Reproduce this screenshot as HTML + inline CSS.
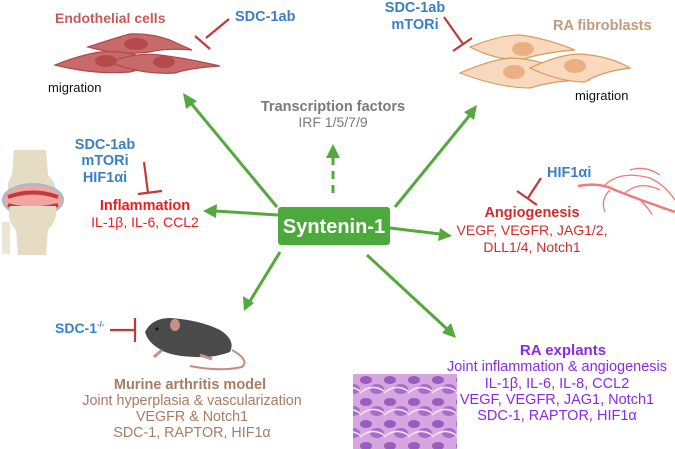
<!DOCTYPE html>
<html><head><meta charset="utf-8"><style>
html,body{margin:0;padding:0;background:#fff;}
svg{display:block;}
text{font-family:"Liberation Sans",sans-serif;}
</style></head><body>
<svg width="675" height="449" viewBox="0 0 675 449" xmlns="http://www.w3.org/2000/svg">
<defs>
<pattern id="hist" width="24" height="22" patternUnits="userSpaceOnUse">
<rect width="24" height="22" fill="#d6a6e0"/>
<ellipse cx="6" cy="6" rx="6" ry="4" fill="#9a5cc0"/><ellipse cx="17" cy="15" rx="7" ry="5" fill="#a86ccc"/>
<path d="M0,19 Q12,9 24,17" stroke="#f6e6f8" stroke-width="1.5" fill="none"/>
</pattern>
</defs>

<!-- Arrows -->
<g stroke="#55a83c" stroke-width="3" fill="none">
<line x1="277" y1="207" x2="190" y2="102"/>
<line x1="395" y1="207" x2="470" y2="115"/>
<line x1="333" y1="193" x2="333" y2="158" stroke-dasharray="8,6"/>
<line x1="278" y1="215" x2="215" y2="211"/>
<line x1="390" y1="228" x2="440" y2="234"/>
<line x1="280" y1="252" x2="250" y2="301"/>
<line x1="367" y1="255" x2="447" y2="329"/>
</g>
<g fill="#55a83c">
<polygon points="183,93 197,101 186,109"/>
<polygon points="477,105 474,120 464,112"/>
<polygon points="333,144 340,158 326,158"/>
<polygon points="203,211 217,204 216,218"/>
<polygon points="452,236 438,241 440,228"/>
<polygon points="244,311 243,296 254,303"/>
<polygon points="456,338 442,333 451,323"/>
</g>

<!-- Syntenin box -->
<rect x="278" y="207" width="112" height="38" rx="3" fill="#4caa3c"/>
<text x="334" y="233" text-anchor="middle" font-size="20" font-weight="bold" fill="#fff">Syntenin-1</text>

<!-- Endothelial cells -->
<text x="55" y="23" font-size="14" font-weight="bold" fill="#c95a5a">Endothelial cells</text>
<text x="235" y="21" font-size="14.5" font-weight="bold" fill="#3a80c6">SDC-1ab</text>
<g stroke="#c0393b" stroke-width="2.2"><line x1="229" y1="19" x2="206" y2="38"/><line x1="195" y1="36" x2="210" y2="49"/></g>
<g stroke="#b04848" stroke-width="1.2" fill="#c86a6a">
<path d="M88,47 Q115,38 130,34 Q150,33 170,40 L192,50 Q165,48 150,52 Q120,56 88,47z"/>
<path d="M55,65 Q80,55 100,52 Q125,50 145,58 L170,66 Q150,66 130,72 Q95,75 55,65z"/>
<path d="M110,62 Q135,52 160,55 Q185,58 220,66 Q190,68 175,73 Q140,75 110,62z"/>
</g>
<g fill="#b54a4a"><ellipse cx="136" cy="44" rx="12" ry="6"/><ellipse cx="106" cy="61" rx="11" ry="6"/><ellipse cx="164" cy="62" rx="11" ry="6"/></g>
<text x="48" y="92" font-size="13" fill="#111">migration</text>

<!-- Transcription -->
<text x="333" y="111" text-anchor="middle" font-size="14.5" font-weight="bold" fill="#7a7a7a">Transcription factors</text>
<text x="333" y="127" text-anchor="middle" font-size="14" fill="#7a7a7a">IRF 1/5/7/9</text>

<!-- RA fibroblasts -->
<text x="415" y="12" text-anchor="middle" font-size="14.5" font-weight="bold" fill="#3a80c6">SDC-1ab</text>
<text x="415" y="29" text-anchor="middle" font-size="14.5" font-weight="bold" fill="#3a80c6">mTORi</text>
<g stroke="#c0393b" stroke-width="2.2"><line x1="444" y1="17" x2="463" y2="44"/><line x1="453" y1="51" x2="472" y2="38"/></g>
<text x="553" y="30" font-size="14.5" font-weight="bold" fill="#c39a7a">RA fibroblasts</text>
<g stroke="#d79a5e" stroke-width="1.2" fill="#f8d9bd">
<path d="M470,47 Q500,35 520,35 Q545,38 575,50 Q545,52 520,60 Q495,60 470,47z"/>
<path d="M460,73 Q490,60 510,58 Q540,58 590,80 Q555,80 530,88 Q500,88 460,73z"/>
<path d="M530,68 Q560,54 580,54 Q610,56 630,68 Q600,72 585,82 Q560,82 530,68z"/>
</g>
<g fill="#ebaf85"><ellipse cx="523" cy="49" rx="11" ry="7"/><ellipse cx="514" cy="72" rx="11" ry="7"/><ellipse cx="575" cy="66" rx="11" ry="7"/></g>
<text x="575" y="100" font-size="13" fill="#111">migration</text>

<!-- Inflammation -->
<text x="105" y="149" text-anchor="middle" font-size="14.5" font-weight="bold" fill="#3a80c6">SDC-1ab</text>
<text x="105" y="165" text-anchor="middle" font-size="14.5" font-weight="bold" fill="#3a80c6">mTORi</text>
<text x="105" y="182" text-anchor="middle" font-size="14.5" font-weight="bold" fill="#3a80c6">HIF1αi</text>
<g stroke="#c0393b" stroke-width="2.2"><line x1="144" y1="162" x2="148" y2="193"/><line x1="138" y1="194" x2="162" y2="191"/></g>
<text x="145" y="210" text-anchor="middle" font-size="14.5" font-weight="bold" fill="#ee1c1c">Inflammation</text>
<text x="145" y="227" text-anchor="middle" font-size="14" fill="#ee1c1c">IL-1β, IL-6, CCL2</text>

<!-- knee -->
<g>
<path d="M14,150 L46,150 L48,175 Q58,185 55,196 L10,196 Q5,185 12,175z" fill="#e6dcc4"/>
<ellipse cx="33" cy="200" rx="30" ry="16" fill="#f2a4a4" stroke="#9cc0d0" stroke-width="2"/>
<path d="M8,197 Q33,188 58,197" stroke="#c23a3a" stroke-width="4" fill="none"/>
<path d="M8,205 Q30,212 58,205" stroke="#c23a3a" stroke-width="4" fill="none"/>
<path d="M10,206 L56,206 Q58,220 48,230 L46,255 L18,255 L16,230 Q6,220 10,206z" fill="#e6dcc4"/>
<rect x="2" y="222" width="8" height="32" fill="#ede5d3"/>
</g>

<!-- Angiogenesis -->
<text x="547" y="177" font-size="14.5" font-weight="bold" fill="#3a80c6">HIF1αi</text>
<g stroke="#c0393b" stroke-width="2.2"><line x1="541" y1="178" x2="528" y2="198"/><line x1="517" y1="191" x2="537" y2="205"/></g>
<text x="532" y="217" text-anchor="middle" font-size="14.5" font-weight="bold" fill="#d02c2c">Angiogenesis</text>
<text x="532" y="235" text-anchor="middle" font-size="14" fill="#d02c2c">VEGF, VEGFR, JAG1/2,</text>
<text x="532" y="252" text-anchor="middle" font-size="14" fill="#d02c2c">DLL1/4, Notch1</text>
<g stroke="#ef7a7a" stroke-width="1.3" fill="none">
<path d="M578,186 Q600,182 615,190 Q640,200 675,212" stroke-width="2.5"/>
<path d="M605,185 Q620,170 650,178 Q665,185 675,200"/>
<path d="M610,190 Q600,200 605,212"/>
<path d="M625,193 Q640,180 660,190"/>
<path d="M640,200 Q650,210 652,215"/>
<path d="M630,170 Q645,165 660,175"/>
</g>

<!-- Mouse -->
<text x="55" y="333" font-size="14" font-weight="bold" fill="#3a80c6">SDC-1<tspan font-size="8" dy="-6">-/-</tspan></text>
<g stroke="#c0393b" stroke-width="2.2"><line x1="110" y1="330" x2="134" y2="330"/><line x1="135" y1="318" x2="135" y2="342"/></g>
<path d="M232,350 Q250,360 242,367 Q220,372 190,366" stroke="#c88a80" stroke-width="2" fill="none"/>
<path d="M145,332 Q152,318 170,318 Q200,320 220,330 Q236,340 230,352 Q215,358 195,357 Q168,356 158,348 Q148,342 145,332z" fill="#4a4a4a"/>
<ellipse cx="175" cy="325" rx="5" ry="6" fill="#c99085"/>
<circle cx="157" cy="329" r="1.5" fill="#111"/>
<path d="M162,350 L154,357 M200,355 L212,359" stroke="#c99085" stroke-width="3"/>
<text x="190" y="389" text-anchor="middle" font-size="14.5" font-weight="bold" fill="#a97b63">Murine arthritis model</text>
<text x="192" y="405" text-anchor="middle" font-size="14.3" fill="#a97b63">Joint hyperplasia &amp; vascularization</text>
<text x="192" y="421" text-anchor="middle" font-size="14.3" fill="#a97b63">VEGFR &amp; Notch1</text>
<text x="192" y="437" text-anchor="middle" font-size="14.3" fill="#a97b63">SDC-1, RAPTOR, HIF1α</text>

<!-- RA explants -->
<rect x="353" y="374" width="104" height="75" fill="url(#hist)"/>
<text x="563" y="355" text-anchor="middle" font-size="15" font-weight="bold" fill="#8a2be2">RA explants</text>
<text x="557" y="371" text-anchor="middle" font-size="14.5" fill="#8a2be2">Joint inflammation &amp; angiogenesis</text>
<text x="557" y="388" text-anchor="middle" font-size="14.5" fill="#8a2be2">IL-1β, IL-6, IL-8, CCL2</text>
<text x="557" y="404" text-anchor="middle" font-size="14.5" fill="#8a2be2">VEGF, VEGFR, JAG1, Notch1</text>
<text x="557" y="420" text-anchor="middle" font-size="14.5" fill="#8a2be2">SDC-1, RAPTOR, HIF1α</text>
</svg>
</body></html>
